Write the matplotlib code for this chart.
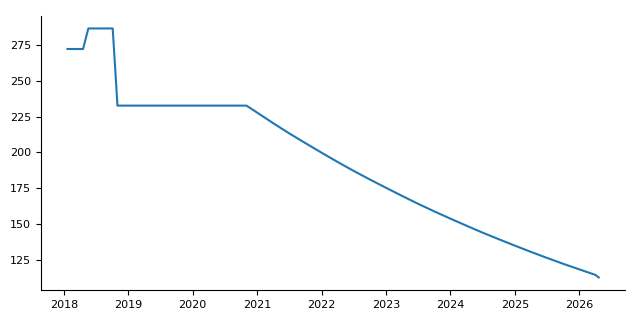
"""Line chart of a value over time, flat steps then a steady decline"""

import pandas as pd
import matplotlib.pyplot as plt

dates = [
    "2018-01-22", "2018-04-20", "2018-05-20", "2018-10-05", "2018-11-01",
    "2020-11-01",
    "2021-01-01", "2021-04-01", "2021-07-01", "2021-10-01",
    "2022-01-01", "2022-04-01", "2022-07-01", "2022-10-01",
    "2023-01-01", "2023-04-01", "2023-07-01", "2023-10-01",
    "2024-01-01", "2024-04-01", "2024-07-01", "2024-10-01",
    "2025-01-01", "2025-04-01", "2025-07-01", "2025-10-01",
    "2026-01-01", "2026-04-01", "2026-04-20",
]
values = [
    272.0, 272.0, 286.3, 286.3, 232.6,
    232.6,
    227.7, 220.4, 213.3, 206.5,
    199.8, 193.4, 187.2, 181.2,
    175.4, 169.8, 164.3, 159.0,
    153.9, 149.0, 144.2, 139.6,
    135.1, 130.8, 126.6, 122.5,
    118.6, 114.8, 113.0,
]

df = pd.DataFrame({"date": pd.to_datetime(dates), "value": values})

fig, ax = plt.subplots(figsize=(6.4, 3.2), dpi=100)
ax.plot(df["date"], df["value"], color="#1f77b4", linewidth=1.5)
ax.spines["top"].set_visible(False)
ax.spines["right"].set_visible(False)
ax.tick_params(labelsize=8)
fig.subplots_adjust(left=0.064, right=0.977, top=0.95, bottom=0.094)
fig.savefig("out.png")
